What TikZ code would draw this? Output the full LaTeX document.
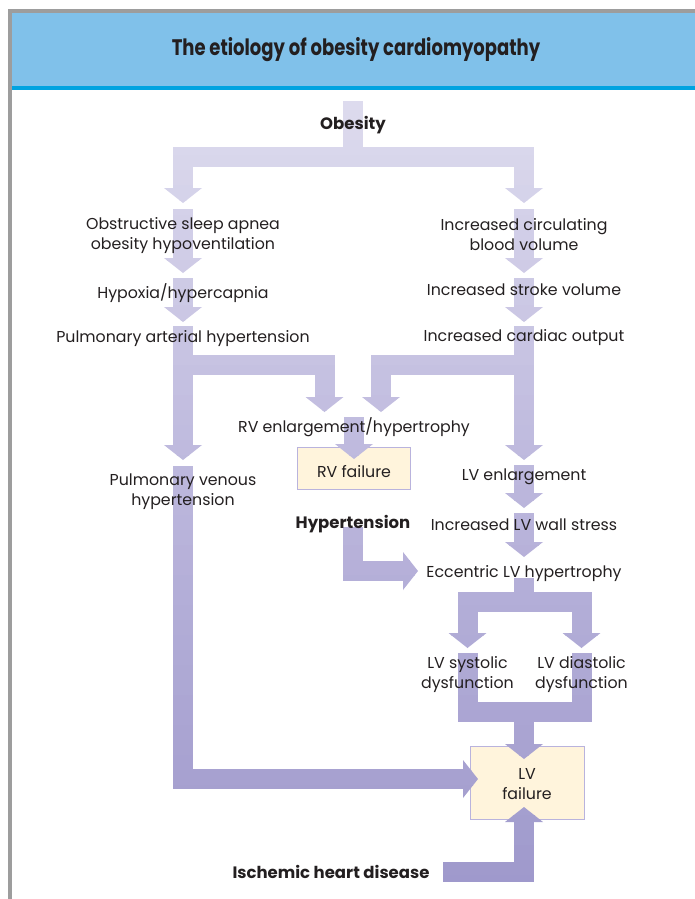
\documentclass[tikz,border=0pt]{standalone}
\usepackage{fontspec}
\setmainfont{Poppins}
\newfontfamily\headfont[FakeStretch=0.8]{Poppins}
\usetikzlibrary{arrows.meta}
\definecolor{Ink}{HTML}{231F20}
\definecolor{Frame}{HTML}{9D9D9D}
\definecolor{Band}{HTML}{80C1EA}
\definecolor{BandLine}{HTML}{00A3E0}
\definecolor{FlowTop}{HTML}{DEDCEE}
\definecolor{FlowMid}{HTML}{BBB6DC}
\definecolor{FlowBot}{HTML}{9E98CB}
\definecolor{BoxFill}{HTML}{FFF4DC}
\definecolor{BoxLine}{HTML}{B9B3DD}
\pgfdeclarelayer{fg}
\pgfsetlayers{main,fg}

% all flow arrows, drawn in colour Flow
\newcommand\flowarrows{%
 \draw[a] ([yshift=24.5pt]obesity.center) -- ++(0,56) -| ([yshift=32.5pt]osa.center);
 \draw[a] ([yshift=24.5pt]obesity.center) -- ++(0,56) -| ([yshift=31.5pt]icbv.center);
 \draw[a] ([yshift=26.5pt]osa.center) -- ([yshift=20.5pt]hypox.center);
 \draw[a] ([yshift=25.5pt]icbv.center) -- ([yshift=16.5pt]isv.center);
 \draw[a] ([yshift=15.5pt]hypox.center) -- ([yshift=16.5pt]pah.center);
 \draw[a] ([yshift=11.5pt]isv.center) -- ([yshift=15.5pt]ico.center);
 \draw[a] ([yshift=12.5pt]pah.center) -- ([yshift=31.5pt]pvh.center);
 \draw[a] ([yshift=12.5pt]pah.center) |- ++(141.5,39) -- ([xshift=-29.5pt,yshift=15.5pt]rve.center);
 \draw[a] ([yshift=11.5pt]ico.center) -- ([yshift=16.5pt]lve.center);
 \draw[a] ([yshift=11.5pt]ico.center) |- ++(-143,39) -- ([xshift=27pt,yshift=15.5pt]rve.center);
 \draw[a] ([yshift=10.5pt]rve.center) -- ([yshift=9pt]rvf.center);
 \draw[a] ([yshift=11.5pt]lve.center) -- ([yshift=16.5pt]ilvw.center);
 \draw[a] ([yshift=11.5pt]ilvw.center) -- ([yshift=16.5pt]elvh.center);
 \draw[a] ([yshift=-2.5pt]htn.center) |- ([xshift=-106pt,yshift=2.5pt]elvh.center);
 \draw[a] ([yshift=-4.5pt]elvh.center) -- ++(0,23.5) -| ([yshift=26.5pt]lvsd.center);
 \draw[a] ([yshift=-4.5pt]elvh.center) -- ++(0,23.5) -| ([yshift=26.5pt]lvdd.center);
 \draw[a] ([yshift=21.5pt]lvsd.center) |- ++(56.5,59) -- ([xshift=-3pt,yshift=23.5pt]lvf.center);
 \draw[bar] ([yshift=21.5pt]lvdd.center) |- ++(-57.5,59);
 \draw[a] ([yshift=25.5pt]pvh.center) |- ([xshift=-49pt,yshift=3.5pt]lvf.center);
 \draw[a] ([xshift=112pt]ihd.center) -| ([xshift=-3pt,yshift=-24.5pt]lvf.center);
}

\begin{document}
\begin{tikzpicture}[
 x=1pt,y=-1pt,
 t/.style={font=\fontsize{15.8}{20}\selectfont,text=Ink,align=center,inner sep=0pt},
 tb/.style={t,font=\fontsize{16.5}{20}\selectfont\bfseries},
 box/.style={draw=BoxLine,line width=1pt,fill=BoxFill,inner sep=0pt},
 bar/.style={draw=Flow,line width=20pt},
 a/.style={bar,-{Triangle[width=38pt,length=15pt,line width=0pt]}}
]
\useasboundingbox (0,0) rectangle (695,899);
% heading band and frame
\fill[Band] (12,12) rectangle (695,87);
\fill[BandLine] (12,86) rectangle (695,89.5);
\draw[Frame,line width=4pt] (9.5,899) -- (9.5,11) -- (695,11);

% failure boxes
\node[box,minimum width=113pt,minimum height=42pt] (rvf) at (354,468) {};
\node[box,minimum width=114pt,minimum height=73pt] (lvf) at (527,782.5) {};

% texts
\begin{pgfonlayer}{fg}
\node[t,font=\fontsize{22.5}{26}\selectfont\headfont\bfseries] (title) at (356,50) {The etiology of obesity cardiomyopathy};
\node[tb] (obesity) at (353,125.5) {Obesity};
\node[t] (osa) at (183,235.5) {Obstructive sleep apnea\\obesity hypoventilation};
\node[t] (icbv) at (524,234.5) {Increased circulating\\blood volume};
\node[t] (hypox) at (183,293.5) {Hypoxia/hypercapnia};
\node[t] (isv) at (524,289.5) {Increased stroke volume};
\node[t] (pah) at (183,338.5) {Pulmonary arterial hypertension};
\node[t] (ico) at (524,337.5) {Increased cardiac output};
\node[t] (rve) at (354,427.5) {RV enlargement/hypertrophy};
\node[t] (rvflbl) at ([yshift=-4pt]rvf.center) {RV failure};
\node[t] (pvh) at (183,491.5) {Pulmonary venous\\hypertension};
\node[t] (lve) at (524,476.5) {LV enlargement};
\node[tb] (htn) at (353,524.5) {Hypertension};
\node[t] (ilvw) at (524,524.5) {Increased LV wall stress};
\node[t] (elvh) at (524,573.5) {Eccentric LV hypertrophy};
\node[t] (lvsd) at (467.5,674.5) {LV systolic\\dysfunction};
\node[t] (lvdd) at (581.5,674.5) {LV diastolic\\dysfunction};
\node[t] (lvflbl) at ([yshift=-2pt]lvf.center) {LV\\failure};
\node[tb] (ihd) at (331,872) {Ischemic heart disease};
\end{pgfonlayer}

% flow arrows, lighter at the top, in thin horizontal bands
\foreach \k in {0,...,53}{
 \pgfmathsetmacro\ytop{95+15*\k}
 \pgfmathsetmacro\ymid{\ytop+7.5}
 \ifdim\ymid pt<490pt
  \pgfmathsetmacro\pct{(\ymid-95)/3.95}
  \colorlet{Flow}{FlowMid!\pct!FlowTop}
 \else
  \pgfmathsetmacro\pct{(\ymid-490)/4.09}
  \colorlet{Flow}{FlowBot!\pct!FlowMid}
 \fi
 \begin{scope}
  \clip (13,\ytop) rectangle (695,\ytop+15.6);
  \flowarrows
 \end{scope}
}
\end{tikzpicture}
\end{document}
